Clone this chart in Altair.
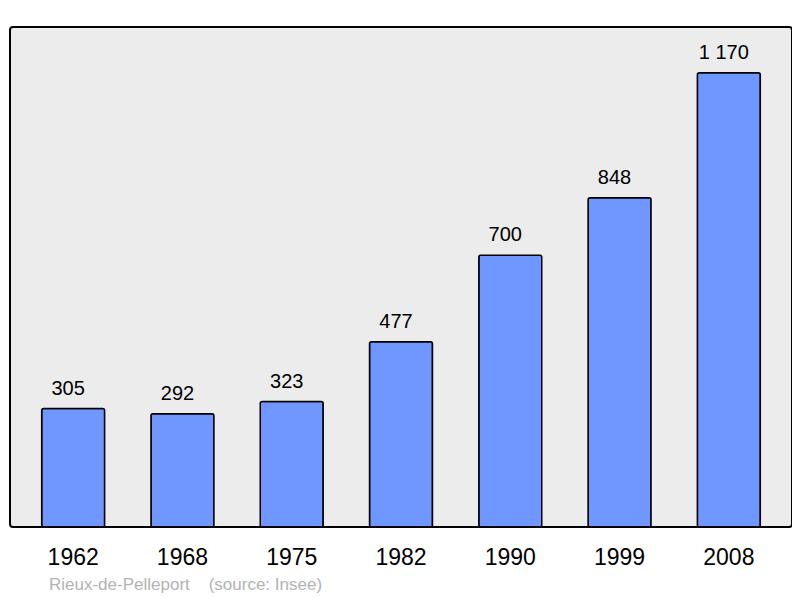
import altair as alt
import pandas as pd

years = ["1962", "1968", "1975", "1982", "1990", "1999", "2008"]
population = [305, 292, 323, 477, 700, 848, 1170]
labels = ["305", "292", "323", "477", "700", "848", "1 170"]
footer = "Rieux-de-Pelleport\u00a0\u00a0\u00a0\u00a0(source: Insee)"

df = pd.DataFrame({"year": years, "pop": population, "label": labels})

FONT = "Liberation Sans"

x = alt.X("year:O", sort=years,
          scale=alt.Scale(paddingInner=0.424, paddingOuter=0.29),
          axis=alt.Axis(title=None, ticks=False, domain=False, labelAngle=0,
                        labelFontSize=23, labelFont=FONT, labelColor="#000000",
                        labelPadding=19, grid=False))
y = alt.Y("pop:Q", scale=alt.Scale(domain=[0, 1288], nice=False),
          axis=None)

bars = alt.Chart(df).mark_bar(
    color="#7096ff", stroke="#000000", strokeWidth=1.5, cornerRadius=2
).encode(x=x, y=y)

text = alt.Chart(df).mark_text(
    baseline="alphabetic", dy=-14, dx=-5, fontSize=20, font=FONT, color="#000000"
).encode(x=x, y=y, text="label:N")

foot = alt.Chart(pd.DataFrame({"t": [footer]})).mark_text(
    align="left", baseline="middle", fontSize=17, font=FONT, color="#b3b3b3"
).encode(x=alt.value(39), y=alt.value(558), text="t:N")

chart = alt.layer(bars, text, foot).properties(
    width=782, height=500,
    autosize=alt.AutoSizeParams(type="none"),
    padding={"left": 2, "top": 19, "right": 0, "bottom": 70},
).configure(
    background="#ffffff"
).configure_view(
    fill="#ececec", stroke="#000000", strokeWidth=2, cornerRadius=3
)

chart.save("out.html", embed_options={"renderer": "svg", "actions": False})
